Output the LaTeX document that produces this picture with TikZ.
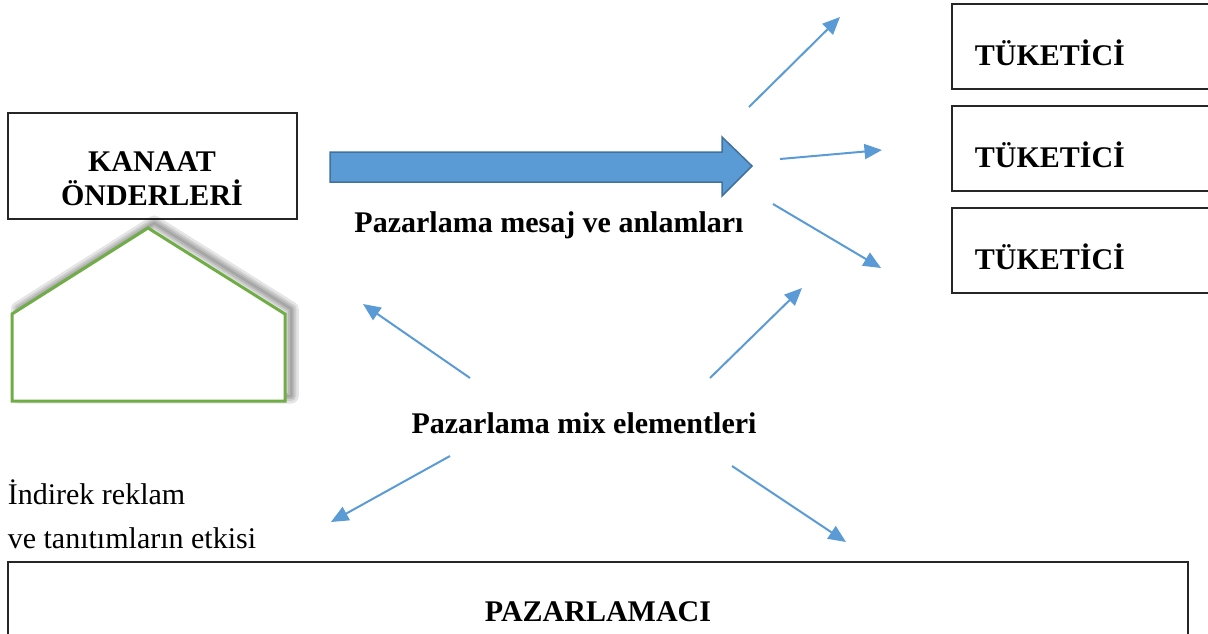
\documentclass[tikz,border=0pt]{standalone}
\usepackage{fontspec}
\setmainfont{Liberation Serif}
\usetikzlibrary{arrows.meta}
\definecolor{okmavi}{HTML}{5B9BD5}
\definecolor{okkenar}{HTML}{41719C}
\definecolor{yesil}{HTML}{70AD47}
\tikzset{
  kutu/.style={draw=black!85,line width=0.5pt},
  yazi/.style={font=\bfseries\fontsize{12}{13.5}\selectfont},
  ok/.style={draw=okmavi,line width=0.8pt,-{Triangle[length=7pt,width=6pt]}}
}
\begin{document}
\begin{tikzpicture}[x=0.4pt,y=-0.4pt]
    \useasboundingbox (0,0) rectangle (1208,634);
    \clip (0,0) rectangle (1208,634);
    % kutular
    \draw[kutu] (8,113) rectangle (297,219);
    \node[yazi,align=center] (kanaat) at (152,179) {KANAAT\\ÖNDERLERİ};
    \draw[kutu] (952,4) rectangle (1215,89);
    \node[yazi,anchor=west] (tuk1) at (966,53) {TÜKETİCİ};
    \draw[kutu] (952,106) rectangle (1215,191);
    \node[yazi,anchor=west] (tuk2) at (966,155) {TÜKETİCİ};
    \draw[kutu] (952,208) rectangle (1215,293);
    \node[yazi,anchor=west] (tuk3) at (966,257) {TÜKETİCİ};
    \draw[kutu] (8,562) rectangle (1188,650);
    \node[yazi] (pazarlamaci) at (598,612) {PAZARLAMACI};
    % ev ve golgesi
    \begin{scope}[xshift=2.5pt,yshift=2pt]
      \foreach \w in {6,4,2.5,1}
        \draw[black,opacity=0.1,line width=\w pt,line join=round]
          (148,228) -- (285,314) -- (285,401) -- (12,401) -- (12,314) -- cycle;
    \end{scope}
    \draw[yesil,line width=1.2pt,fill=white]
      (148,228) -- (285,314) -- (285,401) -- (12,401) -- (12,314) -- cycle;
    % buyuk ok
    \draw[fill=okmavi,draw=okkenar,line width=0.6pt]
      (330,152) -- (722,152) -- (722,137) -- (752,166) -- (722,196)
      -- (722,182) -- (330,182) -- cycle;
    \node[yazi] (mesaj) at (549,225) {Pazarlama mesaj ve anlamları};
    \node[yazi] (mix) at (584,423) {Pazarlama mix elementleri};
    \node[anchor=west,font=\fontsize{12}{14}\selectfont] (indirek1) at (-1,492) {İndirek reklam};
    \node[anchor=west,font=\fontsize{12}{14}\selectfont] (indirek2) at (-1,538) {ve tanıtımların etkisi};
    % oklar
    \coordinate (a1) at (749,107); \coordinate (b1) at (840,17);
    \coordinate (a2) at (780,159); \coordinate (b2) at (882,150);
    \coordinate (a3) at (773,204); \coordinate (b3) at (881,268);
    \coordinate (a4) at (710,378); \coordinate (b4) at (802,288);
    \coordinate (a5) at (470,378); \coordinate (b5) at (363,304);
    \coordinate (a6) at (450,456); \coordinate (b6) at (331,522);
    \coordinate (a7) at (732,466); \coordinate (b7) at (846,542);
    \foreach \i in {1,...,7}
      \draw[ok] (a\i) -- (b\i);
\end{tikzpicture}
\end{document}
